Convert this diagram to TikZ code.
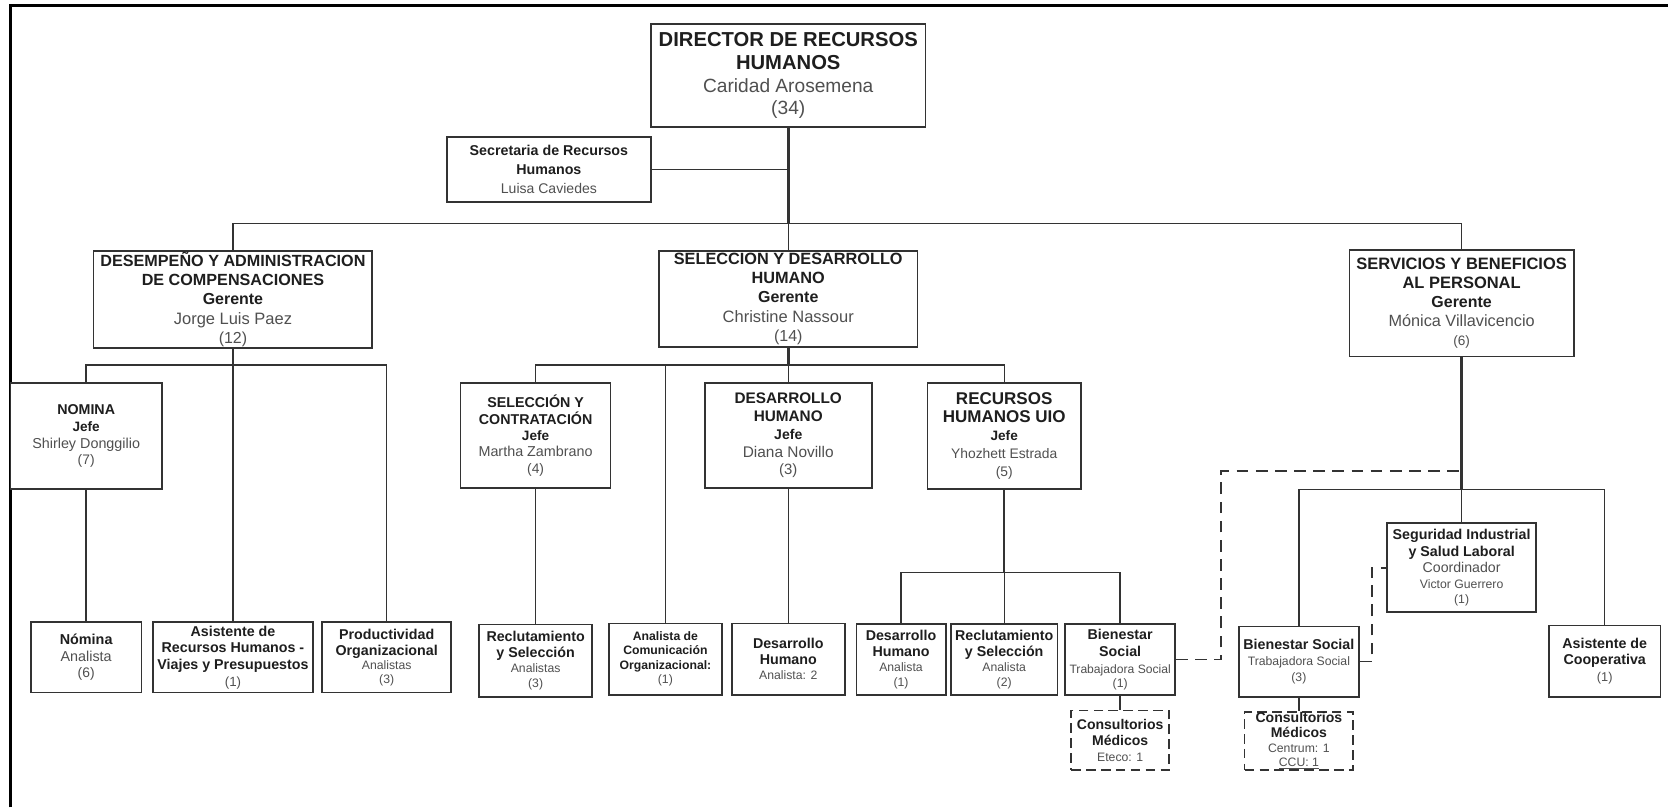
\documentclass[tikz,border=0pt]{standalone}
\usepackage{fontspec}
\setmainfont{Liberation Sans}
\usetikzlibrary{calc}
\definecolor{linec}{HTML}{333333}
\definecolor{tdark}{HTML}{1E1E1E}
\definecolor{tgray}{HTML}{505050}
\newcommand{\fs}[2]{\fontsize{#1}{#2}\selectfont}
\newcommand{\hd}[2][13.4]{{\fontsize{#1}{#1}\selectfont\bfseries\color{tdark}#2}}
\newcommand{\nmtxt}[2][11.5]{{\fontsize{#1}{#1}\selectfont\color{tgray}#2}}
\tikzset{
  orgbox/.style={draw=linec, line width=1.6pt, fill=white, inner sep=0pt, align=center, rectangle},
  dashbox/.style={orgbox, dash pattern=on 9pt off 5pt},
  conn/.style={draw=linec, line width=1.3pt},
  trunk/.style={draw=linec, line width=2.4pt},
  dconn/.style={draw=linec, line width=1.5pt, dash pattern=on 11pt off 7pt},
}
\begin{document}
\begin{tikzpicture}[x=1pt, y=-1pt]
\useasboundingbox (0,0) rectangle (1568,759);
\fill[white] (0,0) rectangle (1568,759);
\draw[line width=2.6pt, black] (10,759) -- (10,5.5) -- (1568,5.5);

% level 0
\node[orgbox, minimum width=258pt, minimum height=97pt, font=\fs{18}{21.5}] (dir) at (741,71)
  {\hd[19]{DIRECTOR DE RECURSOS}\\ \hd[19]{HUMANOS}\\ \nmtxt[18]{Caridad Arosemena}\\ \nmtxt[18]{(34)}};
\node[orgbox, minimum width=192pt, minimum height=61pt, font=\fs{13.4}{18}] (sec) at (516,159.5)
  {\hd{Secretaria de Recursos}\\ \hd{Humanos}\\ \nmtxt[13.2]{Luisa Caviedes}};

% level 1
\node[orgbox, minimum width=262pt, minimum height=91pt, font=\fs{15}{18}] (des) at (219,281.5)
  {\hd[15.2]{DESEMPEÑO Y ADMINISTRACION}\\ \hd[15.2]{DE COMPENSACIONES}\\ \hd[15]{Gerente}\\ \nmtxt[15.5]{Jorge Luis Paez}\\ \nmtxt[15]{(12)}};
\node[orgbox, minimum width=243pt, minimum height=90pt, font=\fs{15}{18}] (sd) at (741,281)
  {\hd[15.3]{SELECCION Y DESARROLLO}\\ \hd[15.3]{HUMANO}\\ \hd[15]{Gerente}\\ \nmtxt[15.5]{Christine Nassour}\\ \nmtxt[15]{(14)}};
\node[orgbox, minimum width=211pt, minimum height=100pt, font=\fs{15}{18}] (srv) at (1374,285)
  {\hd[15.5]{SERVICIOS Y BENEFICIOS}\\ \hd[15.5]{AL PERSONAL}\\ \hd[15]{Gerente}\\ \nmtxt[15.3]{Mónica Villavicencio}\\ \nmtxt[12.8]{(6)}};

% level 2
\node[orgbox, minimum width=142pt, minimum height=100pt, font=\fs{13.4}{15.7}] (nom) at (81,410)
  {\hd{NOMINA}\\ \hd[12.8]{Jefe}\\ \nmtxt[13.5]{Shirley Donggilio}\\ \nmtxt[13]{(7)}};
\node[orgbox, minimum width=141pt, minimum height=99pt, font=\fs{13.4}{15.5}] (sc) at (503.5,409.5)
  {\hd{SELECCIÓN Y}\\ \hd{CONTRATACIÓN}\\ \hd[12.8]{Jefe}\\ \nmtxt[13.5]{Martha Zambrano}\\ \nmtxt[13]{(4)}};
\node[orgbox, minimum width=157pt, minimum height=99pt, font=\fs{14}{16.7}] (dhh) at (741,409.5)
  {\hd[14.4]{DESARROLLO}\\ \hd[14.4]{HUMANO}\\ \hd[13.2]{Jefe}\\ \nmtxt[14.5]{Diana Novillo}\\ \nmtxt[14]{(3)}};
\node[orgbox, minimum width=144pt, minimum height=100pt, font=\fs{14}{16.8}] (uio) at (944,410)
  {\hd[16]{RECURSOS}\\ \hd[16]{HUMANOS UIO}\\ \hd[12.8]{Jefe}\\ \nmtxt[13]{Yhozhett Estrada}\\ \nmtxt[13]{(5)}};

% level 3 (desempeño)
\node[orgbox, minimum width=104pt, minimum height=66pt, font=\fs{13.4}{15.7}] (nomA) at (81,618)
  {\hd[13.5]{Nómina}\\ \nmtxt[13.5]{Analista}\\ \nmtxt[13]{(6)}};
\node[orgbox, minimum width=151pt, minimum height=66pt, font=\fs{13.4}{15.7}] (asis) at (219,618)
  {\hd{Asistente de}\\ \hd{Recursos Humanos -}\\ \hd{Viajes y Presupuestos}\\ \nmtxt[12.5]{(1)}};
\node[orgbox, minimum width=121pt, minimum height=66pt, font=\fs{13.4}{14.8}] (prod) at (363.5,618)
  {\hd{Productividad}\\ \hd{Organizacional}\\[-1.5pt] \nmtxt{Analistas}\\[-2pt] \nmtxt{(3)}};

% level 3 (seleccion y desarrollo)
\node[orgbox, minimum width=106pt, minimum height=68pt, font=\fs{13.4}{15}] (rys1) at (503.5,621)
  {\hd{Reclutamiento}\\ \hd{y Selección}\\[-1pt] \nmtxt{Analistas}\\[-1pt] \nmtxt{(3)}};
\node[orgbox, minimum width=106pt, minimum height=67pt, font=\fs{11.5}{13.5}] (acom) at (625.5,619.5)
  {\hd[11.5]{Analista de}\\ \hd[11.5]{Comunicación}\\ \hd[11.5]{Organizacional:}\\ \nmtxt[11.5]{(1)}};
\node[orgbox, minimum width=106pt, minimum height=67pt, font=\fs{13.4}{15.5}] (dha) at (741,619.5)
  {\hd{Desarrollo}\\ \hd{Humano}\\[-1.5pt] \nmtxt{Analista: 2}};
\node[orgbox, minimum width=84pt, minimum height=67pt, font=\fs{13.4}{15}] (dhu) at (847,620)
  {\hd{Desarrollo}\\ \hd{Humano}\\[-1pt] \nmtxt{Analista}\\[-1pt] \nmtxt{(1)}};
\node[orgbox, minimum width=100pt, minimum height=67pt, font=\fs{13.4}{15}] (rys2) at (944,620)
  {\hd{Reclutamiento}\\ \hd{y Selección}\\[-1pt] \nmtxt{Analista}\\[-1pt] \nmtxt{(2)}};
\node[orgbox, minimum width=103.5pt, minimum height=67pt, font=\fs{13.4}{15.5}] (bs1) at (1053,620)
  {\hd{Bienestar}\\ \hd{Social}\\[0.5pt] \nmtxt[11.4]{Trabajadora Social}\\[-2.5pt] \nmtxt{(1)}};
\node[dashbox, minimum width=92pt, minimum height=56pt, font=\fs{13.2}{15}] (cm1) at (1053,696)
  {\hd[13.2]{Consultorios}\\ \hd[13.2]{Médicos}\\ \nmtxt{Eteco: 1}};

% level 2/3 (servicios)
\node[orgbox, minimum width=140pt, minimum height=83.5pt, font=\fs{13.4}{15.3}] (seg) at (1374,533.7)
  {\hd{Seguridad Industrial}\\ \hd{y Salud Laboral}\\ \nmtxt[13.3]{Coordinador}\\[-0.5pt] \nmtxt[11.5]{Victor Guerrero}\\[-1pt] \nmtxt{(1)}};
\node[orgbox, minimum width=113pt, minimum height=66pt, font=\fs{13.4}{14.7}] (bs2) at (1221,622)
  {\hd{Bienestar Social}\\ \nmtxt{Trabajadora Social}\\ \nmtxt{(3)}};
\node[orgbox, minimum width=105pt, minimum height=67pt, font=\fs{13.4}{15.8}] (coop) at (1508.5,621.5)
  {\hd{Asistente de}\\ \hd{Cooperativa}\\ \nmtxt[12]{(1)}};
\node[dashbox, minimum width=102pt, minimum height=55pt, font=\fs{13.2}{13.8}] (cm2) at (1221,696.5)
  {\hd[13.2]{Consultorios}\\ \hd[13.2]{Médicos}\\ \nmtxt{Centrum: 1}\\ \nmtxt{\underline{CCU: 1}}};

% connectors
\coordinate (hub) at (741,210);
\draw[trunk] (dir.south) -- (hub);
\draw[conn] (hub) -- (sd.north);
\draw[conn] (des.north) |- (hub) -| (srv.north);
\draw[conn] (sec.east) -- (sec.east -| hub);

\coordinate (dbar) at (219,343);
\draw[trunk] (des.south) -- (dbar);
\draw[conn] (nom.north) |- (dbar) -| (prod.north);
\draw[conn] (dbar) -- (asis.north);
\draw[conn] (nom.south) -- (nomA.north);

\coordinate (sbar) at (741,343);
\draw[trunk] (sd.south) -- (sbar);
\draw[conn] (sc.north) |- (sbar) -| (uio.north);
\draw[conn] (sbar) -- (dhh.north);
\draw[conn] (acom.north) -- (acom.north |- sbar);
\draw[conn] (sc.south) -- (rys1.north);
\draw[conn] (dhh.south) -- (dha.north);

\coordinate (ubar) at (944,538);
\draw[trunk] (uio.south) -- (ubar);
\draw[conn] (dhu.north) |- (ubar) -| (bs1.north);
\draw[conn] (ubar) -- (rys2.north);
\draw[conn] (bs1.south) -- (cm1.north);

\coordinate (rbar) at (1374,460);
\draw[trunk] (srv.south) -- (rbar);
\draw[conn] (bs2.north) |- (rbar) -| (coop.north);
\draw[conn] (rbar) -- (seg.north);
\draw[conn] (bs2.south) -- (cm2.north);

\coordinate (dk1) at (1148,443);
\draw[dconn] (bs1.east) -| (dk1) -- (dk1 -| srv.south);
\coordinate (dk2) at (1289.5,533.7);
\draw[dconn] (bs2.east) -| (dk2) -- (seg.west);
\end{tikzpicture}
\end{document}
